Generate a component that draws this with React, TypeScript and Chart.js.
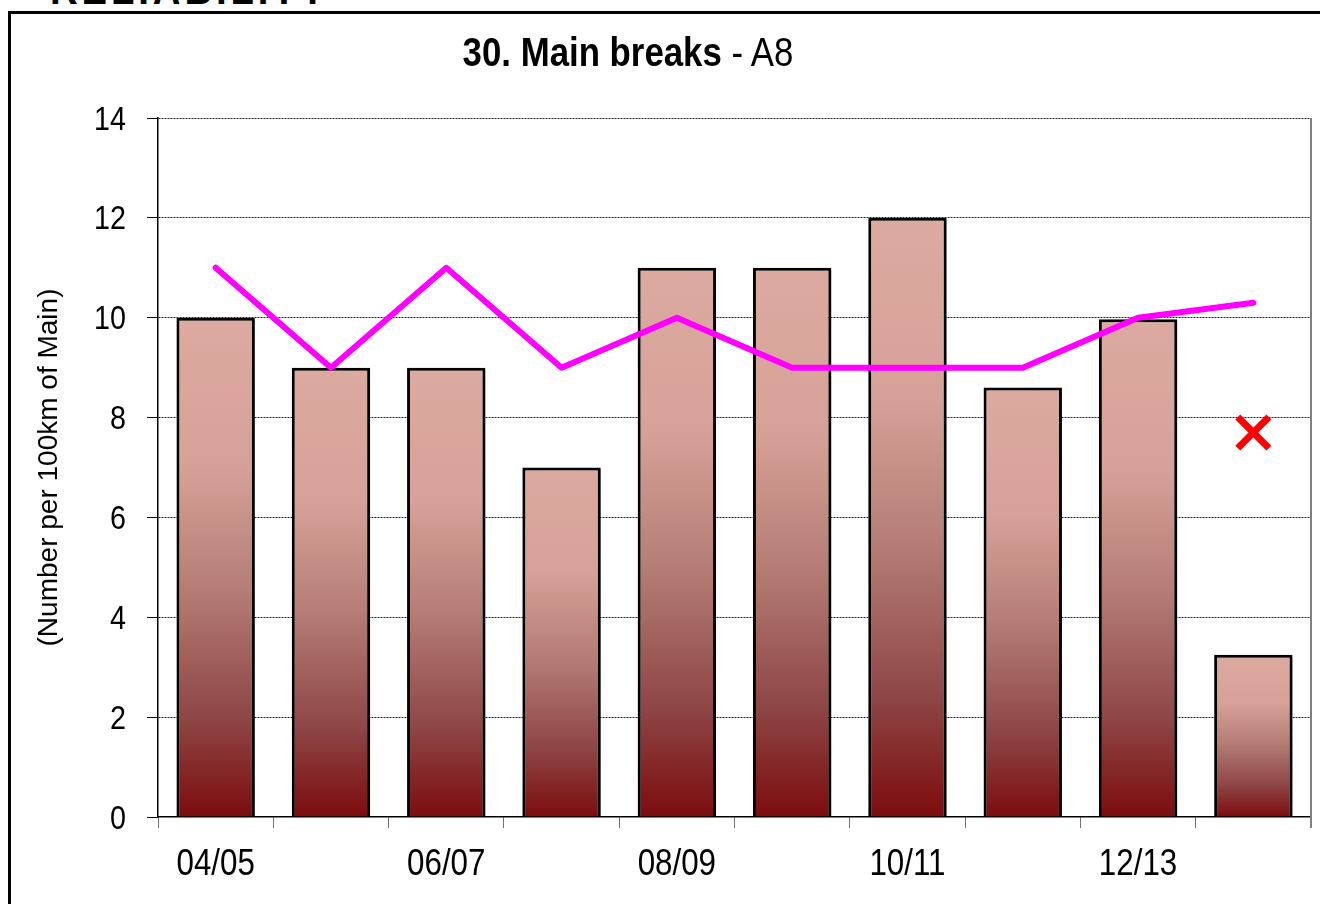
import React, { useEffect, useRef } from "react";
import { Chart, registerables } from "chart.js";

Chart.register(...registerables);

const categories = ["04/05", "05/06", "06/07", "07/08", "08/09", "09/10", "10/11", "11/12", "12/13", "13/14"];
const shownLabels = ["04/05", "", "06/07", "", "08/09", "", "10/11", "", "12/13", ""];
const barValues = [10, 9, 9, 7, 11, 11, 12, 8.6, 9.97, 3.25];
const lineValues = [11, 9, 11, 9, 10, 9, 9, 9, 10, 10.3];
const markerValues = [null, null, null, null, null, null, null, null, null, 7.7];
const yTicks = [0, 2, 4, 6, 8, 10, 12, 14];

const SANS = "'Liberation Sans', Arial, sans-serif";
const NARROW_SCALE = 0.87;

export default function App() {
  const ref = useRef<HTMLCanvasElement | null>(null);

  useEffect(() => {
    if (!ref.current) return;
    const plotBorder = {
      id: "plotBorder",
      beforeDatasetsDraw(chart: any) {
        const { ctx, chartArea } = chart;
        ctx.save();
        ctx.strokeStyle = "#808080";
        ctx.lineWidth = 2;
        ctx.beginPath();
        ctx.moveTo(chartArea.right, chartArea.top);
        ctx.lineTo(chartArea.right, chartArea.bottom + 11);
        ctx.stroke();
        ctx.restore();
      },
    };
    const barShadow = {
      id: "barShadow",
      beforeDatasetDraw(chart: any, args: any) {
        if (args.index === 0) {
          const c = chart.ctx;
          c.save();
          c.shadowColor = "rgba(0,0,0,0.3)";
          c.shadowOffsetX = 2;
          c.shadowOffsetY = 2;
          c.shadowBlur = 1;
        }
      },
      afterDatasetDraw(chart: any, args: any) {
        if (args.index === 0) chart.ctx.restore();
      },
    };
    const narrowLabels = {
      id: "narrowLabels",
      afterDraw(chart: any) {
        const { ctx, scales } = chart;
        const x = scales.x;
        const y = scales.y;
        ctx.save();
        ctx.fillStyle = "#000";
        ctx.textBaseline = "alphabetic";
        ctx.font = `33px ${SANS}`;
        ctx.textAlign = "right";
        yTicks.forEach((v) => {
          const py = y.getPixelForValue(v);
          ctx.save();
          ctx.translate(126, py + 11.5);
          ctx.scale(NARROW_SCALE, 1);
          ctx.fillText(String(v), 0, 0);
          ctx.restore();
        });
        ctx.font = `36px ${SANS}`;
        ctx.textAlign = "center";
        shownLabels.forEach((lab, i) => {
          if (!lab) return;
          const px = x.getPixelForValue(i);
          ctx.save();
          ctx.translate(px, 875);
          ctx.scale(NARROW_SCALE, 1);
          ctx.fillText(lab, 0, 0);
          ctx.restore();
        });
        ctx.restore();
      },
    };

    const chart = new Chart(ref.current, {
      type: "bar",
      data: {
        labels: categories,
        datasets: [
          {
            type: "bar",
            data: barValues,
            order: 3,
            borderColor: "#000",
            borderWidth: 3,
            barPercentage: 0.68,
            categoryPercentage: 1,
            backgroundColor: (c: any) => {
              const chart = c.chart;
              const y = chart.scales && chart.scales.y;
              if (c.type !== "data" || !y) return "#b07870";
              const top = y.getPixelForValue(c.raw);
              const bottom = y.getPixelForValue(0);
              if (!isFinite(top) || !isFinite(bottom) || top === bottom) return "#b07870";
              const g = chart.ctx.createLinearGradient(0, top, 0, bottom);
              g.addColorStop(0, "#dcaaa0");
              g.addColorStop(0.3, "#d6a198");
              g.addColorStop(0.55, "#b47c74");
              g.addColorStop(0.8, "#8e4646");
              g.addColorStop(1, "#7c0c0e");
              return g;
            },
          } as any,
          {
            type: "line",
            data: lineValues,
            order: 1,
            borderColor: "#ff00ff",
            borderWidth: 6,
            borderCapStyle: "round",
            borderJoinStyle: "round",
            pointRadius: 0,
            tension: 0,
            fill: false,
          } as any,
          {
            type: "line",
            data: markerValues,
            order: 0,
            showLine: false,
            pointStyle: "crossRot",
            pointRadius: 22,
            pointBorderWidth: 7,
            pointBorderColor: "#ff0000",
            pointBackgroundColor: "#ff0000",
          } as any,
        ],
      },
      options: {
        responsive: false,
        animation: false,
        layout: { autoPadding: false, padding: { left: 14, top: 118, right: 9, bottom: 0 } },
        plugins: { legend: { display: false }, tooltip: { enabled: false }, title: { display: false } },
        scales: {
          x: {
            offset: true,
            grid: {
              display: true,
              offset: true,
              drawOnChartArea: false,
              drawTicks: true,
              tickLength: 11,
              color: "#707070",
              tickColor: "#707070",
            },
            border: { display: true, color: "#000", width: 1.5 },
            ticks: { display: false },
            afterFit: (s: any) => {
              s.height = 87;
            },
          },
          y: {
            min: 0,
            max: 14,
            afterBuildTicks: (s: any) => {
              s.ticks = yTicks.map((v) => ({ value: v }));
            },
            grid: {
              color: (c: any) => (c.tick && c.tick.value === 0 ? "rgba(0,0,0,0)" : "#222"),
              tickColor: "#000",
              lineWidth: 1,
              drawTicks: true,
              tickLength: 11,
              tickBorderDash: [],
            },
            border: { display: true, color: "#000", width: 1.5, dash: [2, 1] } as any,
            ticks: { display: false },
            title: {
              display: true,
              text: "(Number per 100km of Main)",
              color: "#000",
              font: { family: SANS, size: 28 },
              padding: { top: 18, bottom: 0 },
            },
            afterFit: (s: any) => {
              s.width = 158 - 14;
            },
          },
        },
      },
      plugins: [plotBorder, barShadow, narrowLabels],
    });
    return () => chart.destroy();
  }, []);

  return (
    <div
      style={{
        position: "fixed",
        left: 0,
        top: 0,
        width: 1320,
        height: 904,
        overflow: "hidden",
        background: "#fff",
      }}
    >
      <div
        style={{
          position: "absolute",
          left: 50,
          top: -33,
          fontFamily: SANS,
          fontWeight: "bold",
          fontSize: 44,
          lineHeight: "44px",
          letterSpacing: 4.5,
          color: "#000",
          whiteSpace: "nowrap",
          transform: `scaleX(${NARROW_SCALE})`,
          transformOrigin: "left top",
        }}
      >
        RELIABILITY
      </div>
      <div
        style={{
          position: "absolute",
          left: 8,
          top: 11,
          width: 1400,
          height: 1000,
          border: "3px solid #000",
        }}
      />
      <canvas ref={ref} width={1320} height={904} style={{ position: "absolute", left: 0, top: 0 }} />
      <div
        style={{
          position: "absolute",
          left: 0,
          top: 28,
          width: 1256,
          textAlign: "center",
          fontFamily: SANS,
          fontSize: 40,
          lineHeight: "48px",
          color: "#000",
          whiteSpace: "nowrap",
          transform: `scaleX(${NARROW_SCALE})`,
          transformOrigin: "628px 0",
        }}
      >
        <span style={{ fontWeight: "bold" }}>30. Main breaks</span>
        <span> - A8</span>
      </div>
    </div>
  );
}
